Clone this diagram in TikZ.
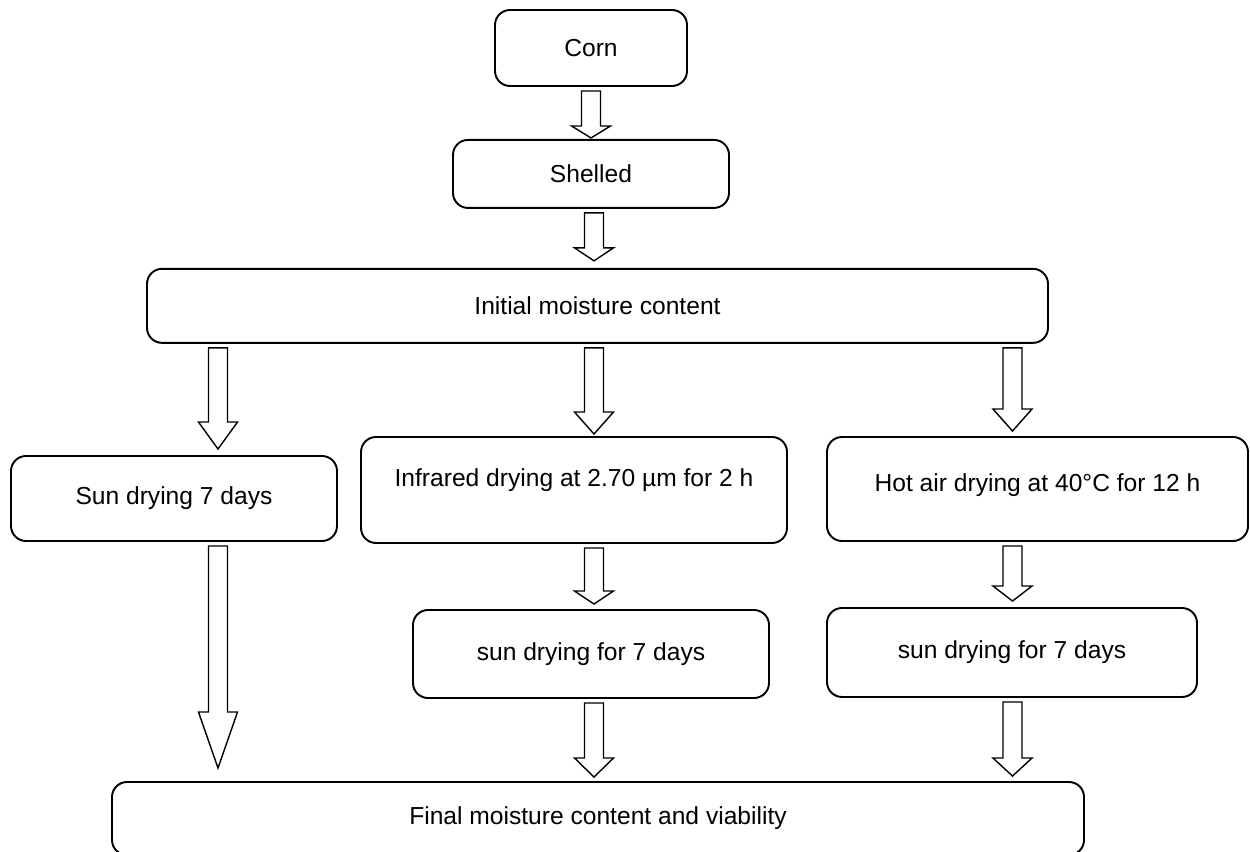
\documentclass[tikz,border=0pt]{standalone}
\usepackage{fontspec}
\setmainfont{Liberation Sans}
\usetikzlibrary{positioning,calc}

\begin{document}
\begin{tikzpicture}[
  box/.style={draw, line width=1.1pt, rounded corners=0.3cm, align=center, inner sep=0pt, font=\fontsize{14}{17}\selectfont},
  blk/.style 2 args={draw, line width=0.8pt, line join=miter,
    to path={let \p1=(\tikztostart), \p2=(\tikztotarget) in
      (\x1-0.19cm,\y1-0.08cm) -- (\x1-0.19cm,\y2+#2+#1) -- (\x1-0.39cm,\y2+#2+#1) -- (\x1,\y2+#2)
      -- (\x1+0.39cm,\y2+#2+#1) -- (\x1+0.19cm,\y2+#2+#1) -- (\x1+0.19cm,\y1-0.08cm) -- cycle}}]
\useasboundingbox (0,0) rectangle (25,-17.04);
% columns of the arrows
\coordinate (colL) at (4.36,0);
\coordinate (colM) at (11.88,0);
\coordinate (colR) at (20.25,0);
\node[box, minimum width=3.84cm, minimum height=1.52cm] (corn) at (11.82,-0.96) {Corn};
\node[box, minimum width=5.52cm, minimum height=1.36cm, below=1.04cm of corn] (shl) {Shelled};
\node[box, minimum width=18.02cm, minimum height=1.48cm, below=1.18cm of shl, xshift=0.13cm] (ini) {Initial moisture content};
\node[box, minimum width=6.52cm, minimum height=1.7cm] (sun) at (3.48,-9.97) {Sun drying 7 days};
\node[box, minimum width=8.52cm, minimum height=2.12cm, text depth=0.5cm] (ir) at (11.48,-9.8) {Infrared drying at 2.70 µm for 2 h};
\node[box, minimum width=8.42cm, minimum height=2.08cm, text depth=0.26cm] (hot) at (20.75,-9.78) {Hot air drying at 40°C for 12 h};
\node[box, minimum width=7.12cm, minimum height=1.76cm] (irsun) at (11.82,-13.08) {sun drying for 7 days};
\node[box, minimum width=7.4cm, minimum height=1.78cm] (hotsun) at (20.24,-13.05) {sun drying for 7 days};
\node[box, minimum width=19.44cm, minimum height=1.46cm] (fin) at (11.96,-16.37) {Final moisture content and viability};
% block arrows
\draw[blk={0.24cm}{0.02cm}] (corn.south) to (shl.north);
\draw[blk={0.26cm}{0.14cm}] (shl.south -| colM) to (ini.north);
\draw[blk={0.54cm}{0.12cm}] (ini.south -| colL) to (sun.north);
\draw[blk={0.44cm}{0.04cm}] (ini.south -| colM) to (ir.north);
\draw[blk={0.44cm}{0.1cm}] (ini.south -| colR) to (hot.north);
\draw[blk={1.12cm}{0.26cm}] (sun.south -| colL) to (fin.north);
\draw[blk={0.26cm}{0.1cm}] (ir.south -| colM) to (irsun.north);
\draw[blk={0.3cm}{0.12cm}] (hot.south -| colR) to (hotsun.north);
\draw[blk={0.38cm}{0.08cm}] (irsun.south -| colM) to (fin.north);
\draw[blk={0.36cm}{0.1cm}] (hotsun.south -| colR) to (fin.north);
\end{tikzpicture}
\end{document}
